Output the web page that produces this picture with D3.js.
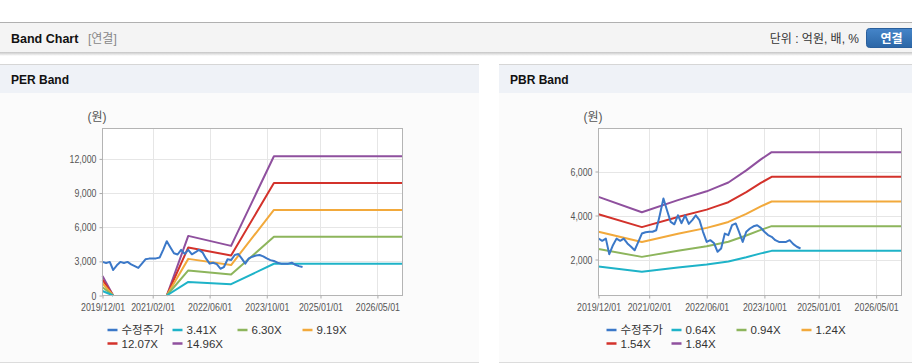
<!DOCTYPE html>
<html>
<head>
<meta charset="utf-8">
<script src="https://cdn.jsdelivr.net/npm/d3@7"></script>
<style>
body { margin: 0; background: #fff; }
svg { display: block; font-family: "Liberation Sans", Arial, "Noto Sans CJK KR", sans-serif; }
.axis text { font-family: "Liberation Sans", Arial, sans-serif; font-size: 11px; fill: #555; }
.axis path, .axis line { stroke: #aaa; }
.grid line { stroke: #e6e6e6; }
</style>
</head>
<body>
<svg id="page" width="912" height="364"></svg>
<script>
// x tick labels (same for both charts)
const xTickLabels = ["2019/12/01", "2021/02/01", "2022/06/01", "2023/10/01", "2025/01/01", "2026/05/01"];

// adjusted price, monthly from 2019/12
const priceStart = "2019-12";
const price = [2955, 2850, 2950, 2240, 2650, 2950, 2850, 2950, 2730, 2580, 2420, 2800,
    3180, 3240, 3260, 3260, 3330, 4010, 4770, 4240, 3710, 3600, 4010, 3650,
    4010, 3620, 3800, 4010, 3790, 3260, 2800, 2880, 2750, 2350, 2500, 3180,
    3110, 3560, 3640, 3260, 2800, 3260, 3410, 3510, 3560, 3440, 3260, 3110,
    3030, 2880, 2800, 2800, 2800, 2880, 2700, 2580, 2500];

// PER band (null = no band)
const perDates = ["2019-12", "2020-03", "2020-09", "2021-06", "2021-12", "2022-12", "2023-12", "2026-12"];
const per341 = [392, 0, null, 0, 1194, 993, 2789, 2789];
const per630 = [725, 0, null, 0, 2205, 1835, 5153, 5153];
const per919 = [1058, 0, null, 0, 3217, 2676, 7517, 7517];
const per1207 = [1389, 0, null, 0, 4225, 3515, 9873, 9873];
const per1496 = [1722, 0, null, 0, 5236, 4357, 12237, 12237];
const perTicks = [0, 3000, 6000, 9000, 12000];

// PBR band
const pbrDates = ["2019-12", "2020-12", "2021-10", "2022-06", "2022-09", "2022-12", "2023-05", "2023-09", "2023-12", "2026-12"];
const pbr064 = [1685, 1443, 1635, 1774, 1843, 1913, 2104, 2278, 2393, 2393];
const pbr094 = [2475, 2120, 2401, 2605, 2708, 2810, 3091, 3346, 3515, 3515];
const pbr124 = [3265, 2797, 3167, 3437, 3572, 3707, 4077, 4414, 4636, 4636];
const pbr154 = [4055, 3473, 3934, 4268, 4436, 4603, 5064, 5482, 5758, 5758];
const pbr184 = [4845, 4150, 4700, 5100, 5300, 5500, 6050, 6550, 6880, 6880];
const pbrTicks = [2000, 4000, 6000];

const colors = ["#3b78c8", "#1eb3c8", "#8db55c", "#f2a93b", "#d3322b", "#8f509e"];

const parseM = d3.timeParse("%Y-%m");
const parseD = d3.timeParse("%Y/%m/%d");
const fmt = d3.format(",");

const svg = d3.select("#page");

// ---- top header bar
svg.append("rect").attr("x", 0).attr("y", 22).attr("width", 912).attr("height", 31).attr("fill", "#f4f4f4");
svg.append("line").attr("x1", 0).attr("x2", 912).attr("y1", 22.5).attr("y2", 22.5).attr("stroke", "#b0b0b0");
let defs = svg.append("defs");
let sh = defs.append("linearGradient").attr("id", "shadow").attr("x1", 0).attr("x2", 0).attr("y1", 0).attr("y2", 1);
sh.append("stop").attr("offset", 0).attr("stop-color", "#c4c4c4");
sh.append("stop").attr("offset", 1).attr("stop-color", "#fff");
svg.append("rect").attr("x", 0).attr("y", 52).attr("width", 912).attr("height", 4).attr("fill", "url(#shadow)");

svg.append("text").attr("x", 11).attr("y", 43).attr("font-size", "12.5px").attr("font-weight", "bold")
    .attr("fill", "#111").text("Band Chart");
svg.append("text").attr("x", 88).attr("y", 43).attr("font-size", "12px").attr("fill", "#888").text("[연결]");
svg.append("text").attr("x", 859).attr("y", 43).attr("font-size", "12px").attr("fill", "#333")
    .attr("text-anchor", "end").text("단위 : 억원, 배, %");

let bg = defs.append("linearGradient").attr("id", "btn").attr("x1", 0).attr("x2", 0).attr("y1", 0).attr("y2", 1);
bg.append("stop").attr("offset", 0).attr("stop-color", "#4585c9");
bg.append("stop").attr("offset", 1).attr("stop-color", "#2b66a6");
svg.append("rect").attr("x", 866.5).attr("y", 28.5).attr("width", 52).attr("height", 19).attr("rx", 3)
    .attr("fill", "url(#btn)").attr("stroke", "#2a5f9c");
svg.append("text").attr("x", 891.5).attr("y", 42.5).attr("text-anchor", "middle").attr("font-size", "12px")
    .attr("font-weight", "bold").attr("fill", "#fff").text("연결");

// squeeze axis labels a bit, the original font is narrower
function narrow(sel) {
    sel.each(function() {
        let w = this.getComputedTextLength();
        d3.select(this).attr("textLength", w * 0.8).attr("lengthAdjust", "spacingAndGlyphs");
    });
}

function drawBand(cfg) {
    let g = svg.append("g");

    // panel
    g.append("rect").attr("x", cfg.px).attr("y", 64).attr("width", cfg.pw).attr("height", 299).attr("fill", "#fbfbfb");
    g.append("rect").attr("x", cfg.px).attr("y", 65).attr("width", cfg.pw).attr("height", 28).attr("fill", "#eff2f7");
    g.append("line").attr("x1", cfg.px).attr("x2", cfg.px + cfg.pw).attr("y1", 64.5).attr("y2", 64.5).attr("stroke", "#d6d6d6");
    g.append("line").attr("x1", cfg.px).attr("x2", cfg.px + cfg.pw).attr("y1", 362.5).attr("y2", 362.5).attr("stroke", "#dcdcdc");
    g.append("text").attr("x", cfg.px + 11).attr("y", 84).attr("font-size", "12px").attr("font-weight", "bold")
        .attr("fill", "#111").text(cfg.title);

    let x = d3.scaleTime().domain([parseM("2019-12"), parseM("2026-12")]).range([cfg.left, cfg.right]);
    let y = d3.scaleLinear().domain(cfg.yDomain).range([295.5, 128.5]);
    let xTicks = xTickLabels.map(parseD);

    g.append("rect").attr("x", cfg.left).attr("y", 128.5).attr("width", cfg.right - cfg.left).attr("height", 167)
        .attr("fill", "#fff");

    let grid = g.append("g").attr("class", "grid");
    grid.selectAll(".gx").data(xTicks.slice(1)).enter().append("line")
        .attr("x1", d => Math.round(x(d)) + 0.5).attr("x2", d => Math.round(x(d)) + 0.5)
        .attr("y1", 128.5).attr("y2", 295.5);
    grid.selectAll(".gy").data(cfg.yTicks.filter(d => y(d) < 295)).enter().append("line")
        .attr("x1", cfg.left).attr("x2", cfg.right)
        .attr("y1", d => Math.round(y(d)) + 0.5).attr("y2", d => Math.round(y(d)) + 0.5);

    g.append("text").attr("x", cfg.left - 5.5).attr("y", 121).attr("font-size", "12px").attr("fill", "#555")
        .attr("text-anchor", "middle").text("(원)");

    let line = d3.line().defined(d => d.v !== null).x(d => x(d.date)).y(d => y(d.v));
    let series = cfg.bands.map(b => cfg.dates.map((dt, i) => ({date: parseM(dt), v: b[i]})));
    let start = parseM(priceStart);
    series.unshift(price.map((v, i) => ({date: d3.timeMonth.offset(start, i), v: v})));

    let plot = g.append("g");
    // bands first, price on top
    for (let k = series.length - 1; k >= 0; k--) {
        plot.append("path").datum(series[k]).attr("fill", "none").attr("stroke", colors[k])
            .attr("stroke-width", 2).attr("stroke-linejoin", "round").attr("d", line);
    }

    // frame
    g.append("rect").attr("x", cfg.left).attr("y", 128.5).attr("width", cfg.right - cfg.left).attr("height", 167)
        .attr("fill", "none").attr("stroke", "#b4b4b4");

    g.append("g").attr("class", "axis").attr("transform", "translate(0,295.5)")
        .call(d3.axisBottom(x).tickValues(xTicks).tickSize(3).tickFormat(d3.timeFormat("%Y/%m/%d")))
        .call(a => a.select(".domain").remove())
        .selectAll("text").attr("dy", "0.85em").call(narrow);
    g.append("g").attr("class", "axis").attr("transform", "translate(" + cfg.left + ",0)")
        .call(d3.axisLeft(y).tickValues(cfg.yTicks).tickSize(3).tickFormat(fmt))
        .call(a => a.select(".domain").remove())
        .selectAll("text").call(narrow);

    // legend
    let names = ["수정주가"].concat(cfg.names);
    let lg = g.append("g");
    names.forEach((n, i) => {
        let lx = cfg.legendX + (i % 4) * 65;
        let ly = 330 + Math.floor(i / 4) * 13.5;
        lg.append("line").attr("x1", lx).attr("x2", lx + 10).attr("y1", ly).attr("y2", ly)
            .attr("stroke", colors[i]).attr("stroke-width", 2.5);
        lg.append("text").attr("x", lx + 14).attr("y", ly + 4).attr("font-size", "11.5px").attr("fill", "#333").text(n);
    });
}

drawBand({
    title: "PER Band", px: 0, pw: 479, left: 102.5, right: 402.5,
    yDomain: [0, 14670], yTicks: perTicks, dates: perDates,
    bands: [per341, per630, per919, per1207, per1496],
    names: ["3.41X", "6.30X", "9.19X", "12.07X", "14.96X"], legendX: 107.5
});

drawBand({
    title: "PBR Band", px: 499, pw: 413, left: 598.5, right: 901.5,
    yDomain: [364, 7955], yTicks: pbrTicks, dates: pbrDates,
    bands: [pbr064, pbr094, pbr124, pbr154, pbr184],
    names: ["0.64X", "0.94X", "1.24X", "1.54X", "1.84X"], legendX: 606.5
});
</script>
</body>
</html>
